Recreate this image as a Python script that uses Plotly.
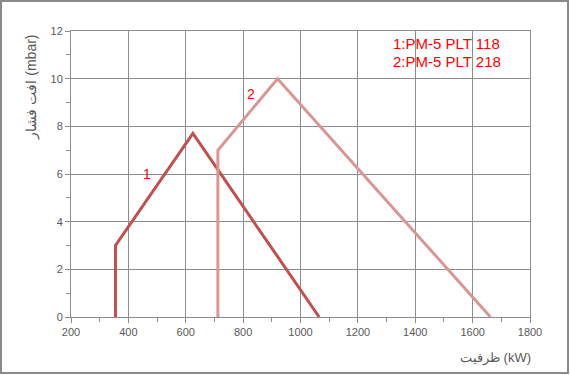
import plotly.graph_objects as go

# Series data
s1_x = [355, 355, 625, 1065]
s1_y = [0, 3, 7.7, 0]
s2_x = [712, 712, 920, 1662]
s2_y = [0, 7, 10, 0]

x_ticks = [200, 400, 600, 800, 1000, 1200, 1400, 1600, 1800]
y_ticks = [0, 2, 4, 6, 8, 10, 12]

label_text = ["1", "2"]
label_x = [465, 827]
label_y = [6.0, 9.35]

legend_lines = ["1:PM-5 PLT 118", "2:PM-5 PLT 218"]
legend_y = [11.47, 10.72]

FONT = "Liberation Sans"
GRID = "#8c8c8c"
TICKC = "#595959"

fig = go.Figure()
fig.add_trace(go.Scatter(x=s1_x, y=s1_y, mode="lines",
                         line=dict(color="#C0504D", width=3), showlegend=False))
fig.add_trace(go.Scatter(x=s2_x, y=s2_y, mode="lines",
                         line=dict(color="#DA9694", width=3), showlegend=False))

for t, x, y in zip(label_text, label_x, label_y):
    fig.add_annotation(x=x, y=y, text=t, showarrow=False,
                       font=dict(family=FONT, size=14, color="#FF0000"))

for t, y in zip(legend_lines, legend_y):
    fig.add_annotation(x=1510, y=y, text=t, showarrow=False,
                       font=dict(family=FONT, size=15, color="#FF0000"))

# axis titles
fig.add_annotation(xref="paper", yref="paper", x=(533 - 71) / 459, y=(317 - 358) / 286,
                   xanchor="right", yanchor="middle",
                   text="ظرفیت (kW)", showarrow=False,
                   font=dict(family=FONT, size=13, color=TICKC))
fig.add_annotation(xref="paper", yref="paper", x=(31 - 71) / 459, y=(317 - 33) / 286,
                   xanchor="center", yanchor="top",
                   text="افت فشار (mbar)", textangle=-90, showarrow=False,
                   font=dict(family=FONT, size=14, color=TICKC))

fig.update_xaxes(range=[200, 1800], tickvals=x_ticks, ticks="outside", ticklen=5,
                 tickcolor=GRID, showgrid=True, gridcolor=GRID, gridwidth=1,
                 showline=True, linecolor=GRID, linewidth=1, mirror=True, zeroline=False,
                 tickfont=dict(family=FONT, size=11, color=TICKC),
                 minor=dict(dtick=100, ticks="outside", ticklen=4, tickcolor=GRID, showgrid=False))
fig.update_yaxes(range=[0, 12], tickvals=y_ticks, ticks="outside", ticklen=5,
                 tickcolor=GRID, showgrid=True, gridcolor=GRID, gridwidth=1,
                 showline=True, linecolor=GRID, linewidth=1, mirror=True, zeroline=False,
                 tickfont=dict(family=FONT, size=11, color=TICKC),
                 minor=dict(dtick=1, ticks="outside", ticklen=4, tickcolor=GRID, showgrid=False))

fig.add_shape(type="rect", xref="paper", yref="paper",
              x0=(1 - 71) / 459, y0=(317 - 373) / 286, x1=(568 - 71) / 459, y1=(317 - 1) / 286,
              line=dict(color="#8a8a8a", width=2), layer="above")

fig.update_layout(width=570, height=375, margin=dict(l=71, r=40, t=31, b=58),
                  plot_bgcolor="white", paper_bgcolor="white", showlegend=False)

fig.write_html("out.html", config={"displayModeBar": False},
               post_script="document.body.style.margin='0';document.body.style.overflow='hidden';")
